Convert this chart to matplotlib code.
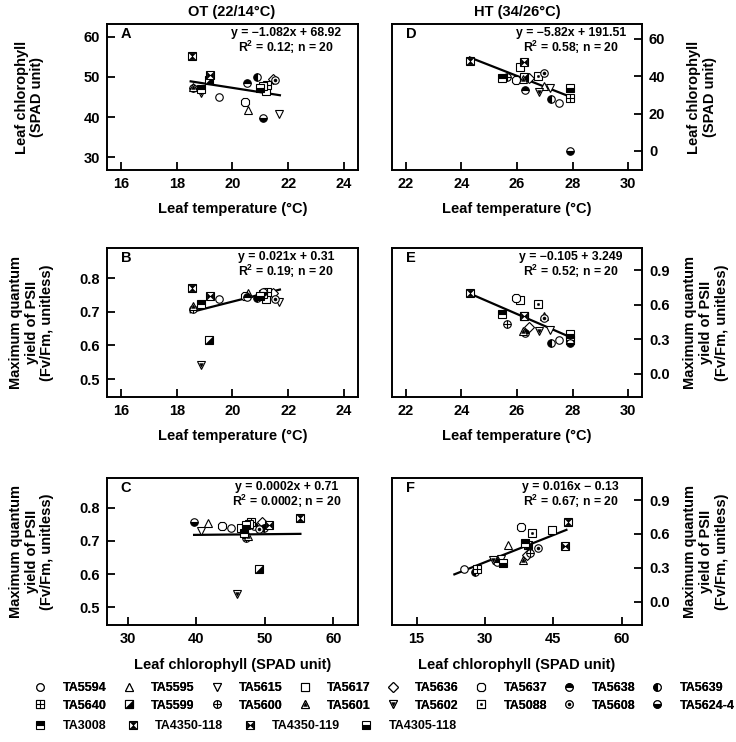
import numpy as np
import matplotlib
matplotlib.use('Agg')
import matplotlib.pyplot as plt
from matplotlib.path import Path
from matplotlib.lines import Line2D
from matplotlib.legend_handler import HandlerTuple

plt.rcParams['font.family'] = ['Liberation Sans', 'DejaVu Sans']
plt.rcParams['font.weight'] = 'bold'
plt.rcParams['axes.labelweight'] = 'bold'
plt.rcParams['mathtext.fontset'] = 'custom'
plt.rcParams['mathtext.bf'] = 'Liberation Sans:bold'
plt.rcParams['mathtext.rm'] = 'Liberation Sans:bold'
plt.rcParams['mathtext.default'] = 'bf'

# genotypes in legend order
genotypes = ['TA5594', 'TA5595', 'TA5615', 'TA5617', 'TA5636', 'TA5637', 'TA5638', 'TA5639',
             'TA5640', 'TA5599', 'TA5600', 'TA5601', 'TA5602', 'TA5088', 'TA5608', 'TA5624-4',
             'TA3008', 'TA4350-118', 'TA4350-119', 'TA4305-118']

# optimum temperature (OT)
ot_temp = [19.50, 20.56, 21.65, 21.20, 21.45, 20.45, 20.52, 20.87, 21.25, 19.15,
           18.58, 18.60, 18.88, 21.10, 21.53, 21.10, 18.88, 18.53, 19.18, 21.00]
ot_chl = [45.1, 41.7, 40.7, 46.5, 49.6, 43.8, 48.4, 49.9, 48.0, 49.2,
          47.2, 47.6, 45.9, 47.7, 49.2, 39.7, 47.0, 55.2, 50.6, 47.2]
ot_fv = [0.739, 0.755, 0.730, 0.738, 0.756, 0.746, 0.745, 0.740, 0.758, 0.615,
         0.709, 0.716, 0.541, 0.752, 0.737, 0.757, 0.724, 0.769, 0.748, 0.748]

# high temperature (HT)
ht_temp = [27.52, 26.99, 27.17, 26.09, 26.42, 25.97, 26.28, 27.24, 27.89, 26.25,
           25.64, 26.20, 26.81, 26.76, 26.99, 27.89, 25.46, 24.30, 26.25, 27.89]
ht_chl = [25.5, 35.0, 33.6, 44.8, 39.3, 38.0, 32.7, 27.9, 28.2, 39.5,
          39.8, 38.3, 31.8, 40.4, 41.6, 0.2, 38.9, 48.2, 47.5, 33.9]
ht_fv = [0.288, 0.500, 0.381, 0.638, 0.410, 0.658, 0.355, 0.264, 0.294, 0.500,
         0.434, 0.367, 0.367, 0.608, 0.480, 0.264, 0.521, 0.702, 0.498, 0.346]

# regression lines as printed on the chart: slope, intercept, x range
fits = {
    'A': (-1.082, 68.92, 18.5, 21.7),
    'B': (0.021, 0.31, 18.5, 21.7),
    'C': (0.0002, 0.71, 39.7, 55.2),
    'D': (-5.82, 191.51, 24.3, 27.9),
    'E': (-0.105, 3.249, 24.3, 27.9),
    'F': (0.016, -0.13, 23.3, 47.9),
}
fit_text = {
    'A': ('y = \u22121.082x + 68.92', 'R$^{2}$ = 0.12; n = 20'),
    'B': ('y = 0.021x + 0.31', 'R$^{2}$ = 0.19; n = 20'),
    'C': ('y = 0.0002x + 0.71', 'R$^{2}$ = 0.0002; n = 20'),
    'D': ('y = \u22125.82x + 191.51', 'R$^{2}$ = 0.58; n = 20'),
    'E': ('y = \u22120.105 + 3.249', 'R$^{2}$ = 0.52; n = 20'),
    'F': ('y = 0.016x \u2212 0.13', 'R$^{2}$ = 0.67; n = 20'),
}

# marker shapes
tri = Path([(1, -1), (1, 1), (-1, -1), (1, -1)], [1, 2, 2, 79])
hourglass = Path([(-1, 1), (1, 1), (-1, -1), (1, -1), (-1, 1)], [1, 2, 2, 2, 79])
bowtie = Path([(-1, 1), (1, -1), (1, 1), (-1, -1), (-1, 1)], [1, 2, 2, 2, 79])

MS = 5.4
OPEN = dict(mfc='white', mec='black', mew=0.8)
FILL = dict(mfc='black', mec='black', mew=0.4)
LINE = dict(mec='black', mew=0.8)


def half(fs):
    return dict(fillstyle=fs, mfc='black', mfcalt='white', mec='black', mew=0.8)


styles = {
    'TA5594': [('o', 1.0, OPEN)],
    'TA5595': [('^', 1.0, OPEN)],
    'TA5615': [('v', 1.0, OPEN)],
    'TA5617': [('s', 1.0, OPEN)],
    'TA5636': [('D', 0.85, OPEN)],
    'TA5637': [('8', 1.15, OPEN)],
    'TA5638': [('o', 1.0, half('top'))],
    'TA5639': [('o', 1.0, half('left'))],
    'TA5640': [('s', 1.0, OPEN), ('+', 1.0, LINE)],
    'TA5599': [('s', 1.0, OPEN), (tri, 1.0, FILL)],
    'TA5600': [('o', 1.0, OPEN), ('+', 1.0, LINE)],
    'TA5601': [('^', 1.0, OPEN), ('^', 0.5, FILL)],
    'TA5602': [('v', 1.0, OPEN), ('v', 0.5, FILL)],
    'TA5088': [('s', 1.0, OPEN), ('o', 0.3, FILL)],
    'TA5608': [('o', 1.0, OPEN), ('o', 0.4, FILL)],
    'TA5624-4': [('o', 1.0, half('bottom'))],
    'TA3008': [('s', 1.0, half('top'))],
    'TA4350-118': [('s', 1.0, OPEN), (hourglass, 0.9, FILL)],
    'TA4350-119': [('s', 1.0, OPEN), (bowtie, 0.9, FILL)],
    'TA4305-118': [('s', 1.0, half('bottom'))],
}

fig = plt.figure(figsize=(7.36, 7.42), dpi=100)
W, H = 736, 742


def box(l, t, w, h):
    return [l / W, 1 - (t + h) / H, w / W, h / H]


axes = {
    'A': fig.add_axes(box(107, 24, 251, 146)),
    'D': fig.add_axes(box(392, 24, 250, 146)),
    'B': fig.add_axes(box(107, 248, 251, 149)),
    'E': fig.add_axes(box(392, 248, 250, 149)),
    'C': fig.add_axes(box(107, 478, 251, 147)),
    'F': fig.add_axes(box(392, 478, 250, 147)),
}

panel_data = {
    'A': (ot_temp, ot_chl), 'B': (ot_temp, ot_fv), 'C': (ot_chl, ot_fv),
    'D': (ht_temp, ht_chl), 'E': (ht_temp, ht_fv), 'F': (ht_chl, ht_fv),
}
xlims = {'A': (15.5, 24.5), 'B': (15.5, 24.5), 'C': (27.0, 63.6),
         'D': (21.5, 30.5), 'E': (21.5, 30.5), 'F': (9.6, 64.5)}
ylims = {'A': (26.8, 63.2), 'B': (0.447, 0.889), 'C': (0.447, 0.889),
         'D': (-10.2, 68.0), 'E': (-0.205, 1.095), 'F': (-0.205, 1.095)}
xticks = {'A': [16, 18, 20, 22, 24], 'B': [16, 18, 20, 22, 24], 'C': [30, 40, 50, 60],
          'D': [22, 24, 26, 28, 30], 'E': [22, 24, 26, 28, 30], 'F': [15, 30, 45, 60]}
yticks = {'A': [30, 40, 50, 60], 'B': [0.5, 0.6, 0.7, 0.8], 'C': [0.5, 0.6, 0.7, 0.8],
          'D': [0, 20, 40, 60], 'E': [0.0, 0.3, 0.6, 0.9], 'F': [0.0, 0.3, 0.6, 0.9]}
xlabels = {'A': 'Leaf temperature (\u00b0C)', 'B': 'Leaf temperature (\u00b0C)',
           'C': 'Leaf chlorophyll (SPAD unit)', 'D': 'Leaf temperature (\u00b0C)',
           'E': 'Leaf temperature (\u00b0C)', 'F': 'Leaf chlorophyll (SPAD unit)'}
chl_label = 'Leaf chlorophyll\n(SPAD unit)'
fv_label = 'Maximum quantum\nyield of PSII\n(Fv/Fm, unitless)'
ylabels = {'A': chl_label, 'B': fv_label, 'C': fv_label,
           'D': chl_label, 'E': fv_label, 'F': fv_label}
# y label anchor (axes fraction): right edge for left panels, left edge for right panels
ylabel_x = {'A': -0.25, 'B': -0.21, 'C': -0.21, 'D': 1.18, 'E': 1.165, 'F': 1.165}

FS = 10.5
for key, ax in axes.items():
    xs, ys = panel_data[key]
    for i, g in enumerate(genotypes):
        for mk, scale, kw in styles[g]:
            ax.plot(xs[i], ys[i], ls='none', marker=mk, ms=MS * scale, zorder=3, **kw)
    a, b, x0, x1 = fits[key]
    lx = np.array([x0, x1])
    ax.plot(lx, a * lx + b, color='black', lw=1.6, zorder=2)

    ax.set_xlim(xlims[key])
    ax.set_ylim(ylims[key])
    ax.set_xticks(xticks[key])
    ax.set_yticks(yticks[key])
    if key in 'DEF':
        ax.yaxis.tick_right()
        ax.yaxis.set_label_position('right')
    if key in 'EF':
        ax.set_yticklabels(['%.1f' % v for v in yticks[key]])
    for s in ax.spines.values():
        s.set_linewidth(1.4)
    ax.tick_params(direction='in', length=5.5, width=1.3, labelsize=FS, pad=5)
    ax.set_xlabel(xlabels[key], fontsize=FS, labelpad=9 if key in 'CF' else 8)
    ax.set_ylabel(ylabels[key], fontsize=FS, linespacing=1.15)
    ax.yaxis.set_label_coords(ylabel_x[key], 0.5)

    eq, r2 = fit_text[key]
    ax.text(0.715, 0.94, eq, transform=ax.transAxes, ha='center', va='center', fontsize=8.8)
    ax.text(0.715, 0.84, r2, transform=ax.transAxes, ha='center', va='center', fontsize=8.8)
    ax.text(0.055, 0.93, key, transform=ax.transAxes, ha='left', va='center', fontsize=10.5)

fig.text(232 / W, 1 - 12 / H, 'OT (22/14\u00b0C)', ha='center', va='center', fontsize=FS)
fig.text(517 / W, 1 - 12 / H, 'HT (34/26\u00b0C)', ha='center', va='center', fontsize=FS)


# legend handles: overlaid marker layers
def handle(g):
    parts = [Line2D([], [], ls='none', marker=mk, ms=MS * scale, **kw) for mk, scale, kw in styles[g]]
    return tuple(parts)


row1 = genotypes[:8]
row2 = genotypes[8:16]
row3 = genotypes[16:]
# column-major order so rows read left to right
top_items = []
for a, b in zip(row1, row2):
    top_items += [a, b]

leg_kw = dict(frameon=False, handlelength=1.0, handletextpad=1.3,
              borderpad=0, borderaxespad=0, labelspacing=0.45,
              handler_map={tuple: HandlerTuple(ndivide=1, pad=0)},
              prop={'weight': 'bold', 'size': 9})
leg1 = fig.legend([handle(g) for g in top_items], top_items, ncol=8, loc='upper left',
                  bbox_to_anchor=(34 / W, 1 - 682 / H), columnspacing=1.25, **leg_kw)
leg2 = fig.legend([handle(g) for g in row3], row3, ncol=4, loc='upper left',
                  bbox_to_anchor=(34 / W, 1 - 720 / H), columnspacing=1.6, **leg_kw)
fig.add_artist(leg1)

fig.savefig('out.png', dpi=100)
